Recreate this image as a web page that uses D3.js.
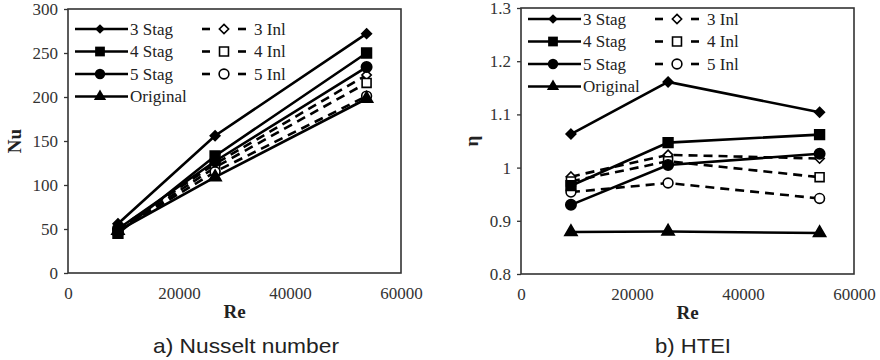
<!DOCTYPE html>
<html>
<head>
<meta charset="utf-8">
<script src="https://cdn.jsdelivr.net/npm/d3@7"></script>
<style>
  body { margin: 0; background: #fff; }
  svg { display: block; }
  .domain { display: none; }
</style>
</head>
<body>
<svg id="chart" width="880" height="360"></svg>
<script>
// Reynolds numbers (x values, shared by both panels)
var re = [9000, 26500, 53800];

// series names, in legend order
var seriesNames = ["3 Stag", "4 Stag", "5 Stag", "Original", "3 Inl", "4 Inl", "5 Inl"];

// a) Nusselt number
var nu3Stag    = [56, 156, 272];
var nu4Stag    = [45, 133, 250];
var nu5Stag    = [50, 127, 234];
var nuOriginal = [48, 109, 198];
var nu3Inl     = [50, 124, 225];
var nu4Inl     = [48, 120, 216];
var nu5Inl     = [48, 115, 201];

// b) HTEI
var eta3Stag    = [1.063, 1.161, 1.104];
var eta4Stag    = [0.966, 1.047, 1.062];
var eta5Stag    = [0.930, 1.005, 1.026];
var etaOriginal = [0.879, 0.880, 0.877];
var eta3Inl     = [0.983, 1.024, 1.017];
var eta4Inl     = [0.974, 1.012, 0.982];
var eta5Inl     = [0.954, 0.971, 0.942];

var xTicks = [0, 20000, 40000, 60000];
var nuTicks = [0, 50, 100, 150, 200, 250, 300];
var etaTicks = [0.8, 0.9, 1.0, 1.1, 1.2, 1.3];

var serif = "'Liberation Serif', 'Times New Roman', serif";

// marker style for each series
var styles = {
  "3 Stag":   { sym: d3.symbolDiamond2, size: 60, fill: "#000", dash: null },
  "4 Stag":   { sym: d3.symbolSquare,   size: 95, fill: "#000", dash: null },
  "5 Stag":   { sym: d3.symbolCircle,   size: 85, fill: "#000", dash: null },
  "Original": { sym: d3.symbolTriangle, size: 65, fill: "#000", dash: null },
  "3 Inl":    { sym: d3.symbolDiamond2, size: 55, fill: "#fff", dash: "9,6" },
  "4 Inl":    { sym: d3.symbolSquare,   size: 80, fill: "#fff", dash: "9,6" },
  "5 Inl":    { sym: d3.symbolCircle,   size: 75, fill: "#fff", dash: "9,6" }
};

var svg = d3.select("#chart");

function drawPanel(p) {
  var w = p.right - p.left, h = p.bottom - p.top;
  var g = svg.append("g").attr("transform", "translate(" + p.left + "," + p.top + ")");

  var x = d3.scaleLinear().domain([0, 60000]).range([0, w]);
  var y = d3.scaleLinear().domain(p.yDomain).range([h, 0]);

  var xAxis = g.append("g")
    .attr("transform", "translate(0," + h + ")")
    .call(d3.axisBottom(x).tickValues(xTicks).tickSize(0).tickPadding(14).tickFormat(d3.format("d")));

  var yAxis = g.append("g")
    .call(d3.axisLeft(y).tickValues(p.yTicks).tickSize(4).tickPadding(6).tickFormat(p.yFormat));

  [xAxis, yAxis].forEach(function(a) {
    a.attr("font-family", serif).attr("font-size", 17);
    a.selectAll(".tick text").attr("fill", "#333");
    a.selectAll(".tick line").attr("stroke", "#333").attr("stroke-width", 1.3);
  });

  var line = d3.line()
    .x(function(d, i) { return x(re[i]); })
    .y(function(d) { return y(d); });

  // draw dashed (Inl) first, then solid over them
  var order = ["3 Inl", "4 Inl", "5 Inl", "Original", "5 Stag", "4 Stag", "3 Stag"];
  order.forEach(function(name) {
    var st = styles[name];
    var vals = p.data[name];
    g.append("path")
      .datum(vals)
      .attr("d", line)
      .attr("fill", "none")
      .attr("stroke", "#000")
      .attr("stroke-width", 2.6)
      .attr("stroke-dasharray", st.dash);
    g.selectAll(null)
      .data(vals)
      .enter().append("path")
      .attr("transform", function(d, i) { return "translate(" + x(re[i]) + "," + y(d) + ")"; })
      .attr("d", d3.symbol().type(st.sym).size(st.size))
      .attr("fill", st.fill)
      .attr("stroke", "#000")
      .attr("stroke-width", 1.6);
  });

  // frame
  g.append("rect")
    .attr("width", w).attr("height", h)
    .attr("fill", "none")
    .attr("stroke", "#333")
    .attr("stroke-width", 1.6);

  // legend
  var leg = g.append("g").attr("transform", "translate(0," + p.legendY + ")");
  var rowH = 22.5;
  ["3 Stag", "4 Stag", "5 Stag", "Original"].forEach(function(name, i) {
    var st = styles[name], yy = i * rowH;
    leg.append("line").attr("x1", 7).attr("x2", 60).attr("y1", yy).attr("y2", yy)
      .attr("stroke", "#000").attr("stroke-width", 2.6);
    leg.append("path").attr("transform", "translate(32," + yy + ")")
      .attr("d", d3.symbol().type(st.sym).size(st.size)).attr("fill", "#000");
    leg.append("text").attr("x", 62).attr("y", yy).attr("dy", "0.35em")
      .attr("font-family", serif).attr("font-size", 17).attr("fill", "#222")
      .text(name);
  });
  ["3 Inl", "4 Inl", "5 Inl"].forEach(function(name, i) {
    var st = styles[name], yy = i * rowH;
    leg.append("line").attr("x1", 134).attr("x2", 142).attr("y1", yy).attr("y2", yy)
      .attr("stroke", "#000").attr("stroke-width", 2.6);
    leg.append("line").attr("x1", 170).attr("x2", 178).attr("y1", yy).attr("y2", yy)
      .attr("stroke", "#000").attr("stroke-width", 2.6);
    leg.append("path").attr("transform", "translate(156," + yy + ")")
      .attr("d", d3.symbol().type(st.sym).size(st.size)).attr("fill", "#fff")
      .attr("stroke", "#000").attr("stroke-width", 1.6);
    leg.append("text").attr("x", 186).attr("y", yy).attr("dy", "0.35em")
      .attr("font-family", serif).attr("font-size", 17).attr("fill", "#222")
      .text(name);
  });

  // axis titles
  g.append("text")
    .attr("transform", "translate(" + p.yLabelX + "," + (h / 2) + ") rotate(-90)")
    .attr("text-anchor", "middle").attr("dy", "0.35em")
    .attr("font-family", serif).attr("font-size", 19).attr("font-weight", "bold")
    .attr("fill", "#222")
    .text(p.yLabel);
  g.append("text")
    .attr("x", w / 2).attr("y", h + 45)
    .attr("text-anchor", "middle")
    .attr("font-family", serif).attr("font-size", 19).attr("font-weight", "bold")
    .attr("fill", "#222")
    .text("Re");

  // caption
  svg.append("text")
    .attr("x", p.captionX).attr("y", 353)
    .attr("text-anchor", "middle")
    .attr("textLength", p.captionW).attr("lengthAdjust", "spacingAndGlyphs")
    .attr("font-family", "'Liberation Sans', Arial, sans-serif").attr("font-size", 21)
    .attr("fill", "#222")
    .text(p.caption);
}

drawPanel({
  left: 68, right: 401, top: 9, bottom: 273,
  yDomain: [0, 300], yTicks: nuTicks, yFormat: d3.format("d"),
  yLabel: "Nu", yLabelX: -54, legendY: 20,
  caption: "a) Nusselt number", captionX: 246, captionW: 186,
  data: { "3 Stag": nu3Stag, "4 Stag": nu4Stag, "5 Stag": nu5Stag, "Original": nuOriginal,
          "3 Inl": nu3Inl, "4 Inl": nu4Inl, "5 Inl": nu5Inl }
});

drawPanel({
  left: 521, right: 854, top: 8, bottom: 274,
  yDomain: [0.8, 1.3], yTicks: etaTicks, yFormat: function(d) { return d3.format("")(+d.toFixed(1)); },
  yLabel: "η", yLabelX: -50, legendY: 11,
  caption: "b) HTEI", captionX: 693, captionW: 76,
  data: { "3 Stag": eta3Stag, "4 Stag": eta4Stag, "5 Stag": eta5Stag, "Original": etaOriginal,
          "3 Inl": eta3Inl, "4 Inl": eta4Inl, "5 Inl": eta5Inl }
});
</script>
</body>
</html>
